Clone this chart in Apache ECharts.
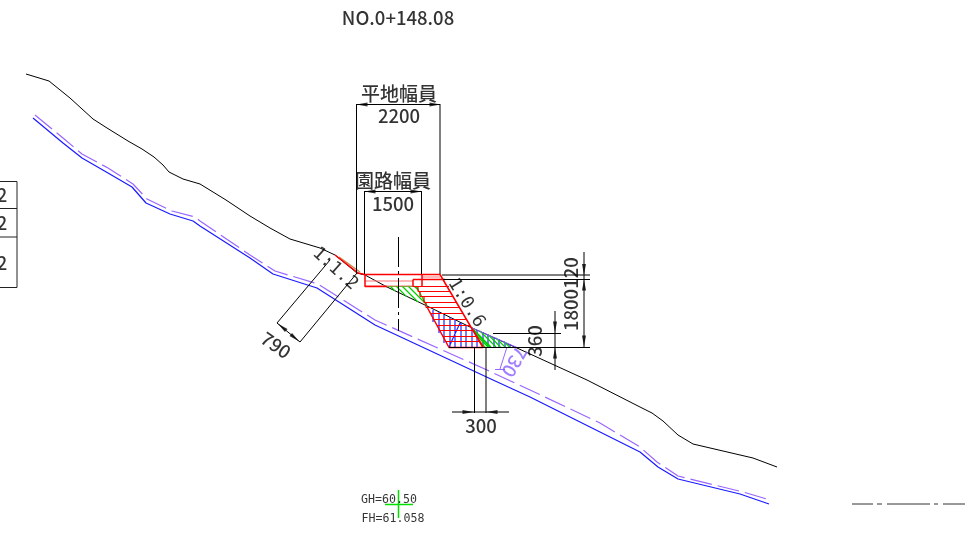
<!DOCTYPE html>
<html><head><meta charset="utf-8">
<style>html,body{margin:0;padding:0;background:#fff}#c{width:979px;height:536px}</style>
<script src="https://cdn.jsdelivr.net/npm/echarts@6/dist/echarts.min.js"></script>
</head><body><div id="c"></div>
<script>
// Drawing units: one unit per picture pixel, y grows downward.
const groundLine = [[26,74],[49,81],[70,98],[93,119],[107,128],[128,141],[142,149],[154,157],[163,165],[169,172],[183,179],[200,184],[226,200],[250,216],[270,228],[290,239],[320,248],[335,255],[357,273],[365,275],[387,287],[427,306],[470,327],[517,348],[587,380],[640,407],[652,413],[663,421],[678,435],[693,444],[753,458],[777,467]];
const blueLine = [[33,118],[63,143],[82,158],[108,173],[132,187],[146,203],[170,214],[193,221],[200,226],[250,258],[273,274],[317,288],[375,325],[493,380],[530,397],[600,432],[640,452],[658,467],[678,479],[740,494],[769,504]];
const purpleLine = [[35,115],[63,138],[82,154],[108,168],[133,184],[147,199],[172,211],[195,217],[200,221],[250,255],[275,271],[318,284],[375,320],[487,370],[530,390],[600,423],[640,447],[657,462],[678,476],[743,492],[770,500]];
const purpleLeader = [[[507,347],[500,369]],[[495,369.5],[505,369.5]]];

const redOutline = [[[335,255],[358,273],[365,274.5],[440,274.5],[483,347.5]],[[427,307],[449,347.5],[483,347.5]],[[365,274.5],[365,286.5],[387,286.5]],[[413,279.5],[422,279.5],[445,279.5]],[[413,279.5],[413,286.5]],[[422,275],[422,286]],[[473,330],[483,347]]];
const redRows = [[[413,286.5],[449,286.5]],[[418,291.5],[450,291.5]],[[420,296.5],[453,296.5]],[[424,302.5],[457,302.5]],[[426,307.5],[460,307.5]],[[430,313.5],[463,313.5]],[[434,319.5],[467,319.5]],[[437,325.5],[470,325.5]],[[440,330.5],[473,330.5]],[[443,336.5],[477,336.5]],[[446,341.5],[480,341.5]],[[418,286.5],[418,291.5]],[[420,291.5],[420,296.5]],[[424,296.5],[424,302.5]],[[426,302.5],[426,307.5]]];
const pinkRows = [[[365,281],[413,281]],[[365,286],[413,286]],[[422,277],[440,277]]];
const orangeTip = [[[339,257],[360,272]]];
const greenHatch = [[[387,286.5],[415,286.5]],[[416,286],[427,306]],[[390,286],[395,291]],[[396,286],[406.6,296.6]],[[402,286],[418,302]],[[408,286],[426,304]],[[414,286],[418.4,290.4]],[[472,328],[491,347]],[[480,331],[496,347]],[[488,334.5],[500.5,347]],[[496,338],[505,347]],[[504,341.5],[509.5,347]],[[474,331],[490,347]],[[477,336],[488,347]],[[479,341],[485,347]]];
const blueHatch = [[[433,310],[433,322]],[[439,312],[439,333]],[[444,315],[444,343]],[[450,317],[450,347]],[[455,320],[455,347]],[[461,323],[461,347]],[[466,325],[466,347]],[[472,328],[472,347]],[[477,330],[477,347]],[[483,332],[483,347]],[[488,335],[488,347]],[[494,337],[494,347]],[[499,339],[499,347]],[[505,342],[505,347]],[[510,344],[510,347]],[[449,347],[460,323]]];
const purpleEdge = [[[470,327],[517,347.5]]];

const dimLines = [
  [[356.5,104],[356.5,273]],[[440,104],[440,274]],[[356.5,104.5],[440,104.5]],
  [[364.5,191],[364.5,274]],[[421.5,191],[421.5,274]],[[364.5,191.5],[421.5,191.5]],
  [[442,275],[590,275]],[[443,279.5],[590,279.5]],[[449,347.5],[590,347.5]],
  [[584,252],[584,347]],[[555,311],[555,370]],[[493,333.5],[561,333.5]],
  [[474.5,347],[474.5,413]],[[486,347],[486,413]],[[452,412],[509,412]],
  [[330,260],[277,323]],[[357,273],[300,342]],[[277,323],[300,342]]
];
const centreLine = [[[398.5,237],[398.5,331]]];
const farRightMark = [[[852,504],[873,504]],[[877,504],[882,504]],[[887,504],[930,504]],[[934,504],[938,504]],[[943,504],[965,504]]];
const sideTable = [[[0,181.5],[17,181.5],[17,287.5],[0,287.5]],[[0,208.5],[17,208.5]],[[0,237],[17,237]]];
const greenCross = [[[398.5,490],[398.5,518]],[[385,504.5],[413,504.5]]];

// x, y, heading of the arrow head
const arrowHeads = [[362,104.5,90],[435,104.5,-90],[370,191.5,90],[416,191.5,-90],[584,269.5,180],[584,285,0],[584,341,180],[555,327,180],[555,353,0],[468,412,-90],[492,412,90],[282,327,50],[295,338,230]];

const textValues = ["NO.0+148.08","平地幅員","2200","園路幅員","1500","120","1800","360","300","1:0.6","1:1.2","790","GH=60.50","FH=61.058","2","2","2"];
const textAnchors = [[398,18],[399,94],[399,116],[393,181],[393,204],[571,273],[571,310],[535,341],[481,426],[466,303],[335,269],[276,345],[389,500],[393,519],[2,195],[2,223],[2,263]];
const textTurns = [0,0,0,0,0,90,90,90,0,-58,-42,-35,0,0,0,0,0];
const textKinds = ["m","c","m","c","m","m","m","m","m","d","d","m","s","s","m","m","m"];
const violetText = "730", violetAnchor = [[515,362]], violetTurn = -120;

const withBreaks = paths => paths.flatMap((p, i) => i ? [['-','-'], ...p] : p);
const stroke = (name, paths, color, width, type) => ({
  name, type:'line', data: withBreaks(paths), showSymbol:false, symbol:'none', silent:true, connectNulls:false, clip:false,
  lineStyle:{color, width, type: type || 'solid', cap:'butt'}, z:2
});
const fonts = {
  m:{fontFamily:'"Noto Sans CJK JP"', fontSize:18.5, fontWeight:500},
  c:{fontFamily:'"Noto Sans CJK JP"', fontSize:19, fontWeight:500},
  d:{fontFamily:'"DejaVu Sans Mono"', fontSize:18},
  s:{fontFamily:'"DejaVu Sans Mono"', fontSize:11.6}
};
const textData = textValues.map((t, i) => ({
  name:t, value:textAnchors[i], symbolSize:0,
  label:{show:true, position:'inside', formatter:'{b}', color:'#000', rotate:textTurns[i], align:'center', verticalAlign:'middle', ...fonts[textKinds[i]]}
}));

const chart = echarts.init(document.getElementById('c'), null, {renderer:'canvas'});
chart.setOption({
  animation:false, backgroundColor:'#fff', tooltip:{show:false}, legend:{show:false},
  grid:{left:0,right:0,top:0,bottom:0},
  xAxis:{type:'value',min:0,max:979,show:false},
  yAxis:{type:'value',min:0,max:536,inverse:true,show:false},
  series:[
    stroke('地盤線',[groundLine],'#000',1),
    stroke('岩線',[blueLine],'#1a1aff',1.2),
    stroke('軟岩線',[purpleLine],'#9966ff',1.2,[22,6]),
    stroke('引出線',purpleLeader,'#9966ff',1),
    stroke('切土端',orangeTip,'#c98a50',1.5),
    stroke('ハッチ青',blueHatch,'#2222ff',1.2),
    stroke('ハッチ緑',greenHatch,'#00d000',1.2),
    stroke('上端',purpleEdge,'#8a5cff',1),
    stroke('桃',pinkRows,'#ff7070',1.2),
    stroke('赤段',redRows,'#ff0000',1.2),
    stroke('赤枠',redOutline,'#ff0000',1.5),
    stroke('寸法線',dimLines,'#000',1),
    stroke('中心線',centreLine,'#000',1,[30,4,3,4]),
    stroke('線種',farRightMark,'#333',1),
    stroke('表',sideTable,'#222',1),
    stroke('十字',greenCross,'#00e000',1.5),
    {type:'scatter', silent:true, clip:false, z:4, symbol:'triangle',
     data:arrowHeads.map(a=>({value:[a[0],a[1]], symbolRotate:a[2]})), symbolSize:[4,11], itemStyle:{color:'#000'}},
    {type:'scatter', silent:true, clip:false, z:5, data:textData},
    {type:'scatter', silent:true, clip:false, z:5, data:[{name:violetText, value:violetAnchor[0], symbolSize:0,
      label:{show:true, position:'inside', formatter:'{b}', color:'#8a5cff', rotate:violetTurn, align:'center', verticalAlign:'middle', ...fonts.m}}]}
  ]
});
</script></body></html>
